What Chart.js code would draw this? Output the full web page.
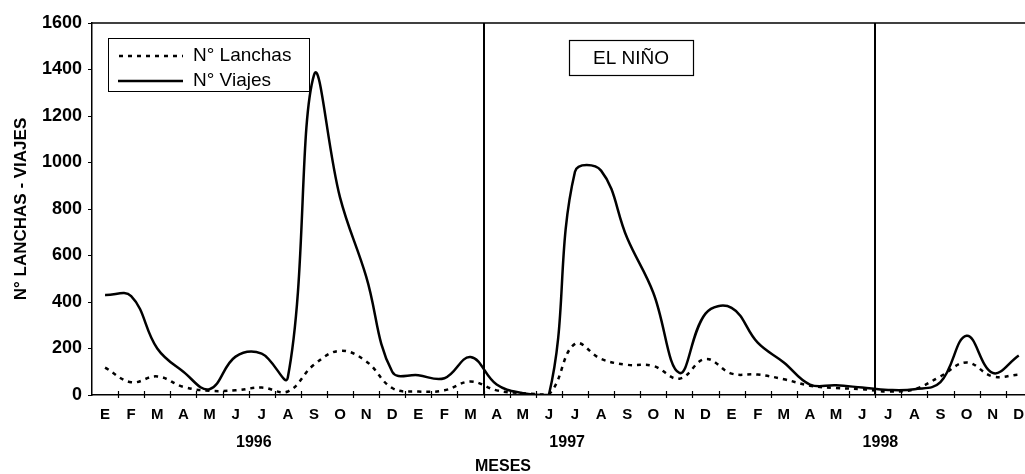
<!DOCTYPE html>
<html>
<head>
<meta charset="utf-8">
<script src="https://cdn.jsdelivr.net/npm/chart.js@4.4.1/dist/chart.umd.min.js"></script>
<style>
html, body { margin: 0; padding: 0; background: #fff; overflow: hidden; }
</style>
</head>
<body>
<canvas id="chart" width="1025" height="474"></canvas>
<script>
// months Jan 1996 .. Dec 1998 (spanish initials)
const months = [
    'E','F','M','A','M','J','J','A','S','O','N','D',
    'E','F','M','A','M','J','J','A','S','O','N','D',
    'E','F','M','A','M','J','J','A','S','O','N','D'
];
const years = ['1996', '1997', '1998'];
const yTicks = [0, 200, 400, 600, 800, 1000, 1200, 1400, 1600];

const lanchas = [
    118, 55, 80, 35, 18, 20, 32, 15, 130, 190, 145, 30,
    15, 20, 58, 20, 8, 3, 220, 155, 130, 125, 70, 155,
    92, 88, 68, 40, 30, 25, 15, 25, 80, 140, 80, 88
];
const viajes = [
    430, 425, 200, 100, 25, 165, 178, 75, 1375, 850, 510, 100,
    85, 72, 163, 45, 8, 0, 960, 965, 675, 440, 95, 350,
    375, 225, 140, 45, 42, 32, 22, 25, 55, 255, 95, 170
];
// El Niño period limits (between Mar/Apr 1997 and Jun/Jul 1998)
const elNinoRange = [14.5, 29.5];

const FONT = '"Liberation Sans", Arial, sans-serif';

const overlay = {
    id: 'overlay',
    afterDatasetsDraw(chart) {
        const { ctx, chartArea: a, scales: { x } } = chart;
        ctx.save();
        ctx.strokeStyle = '#000';
        ctx.fillStyle = '#000';

        // top frame line
        ctx.lineWidth = 1.5;
        ctx.beginPath();
        ctx.moveTo(a.left, a.top);
        ctx.lineTo(a.right + 2, a.top);
        ctx.stroke();

        // el niño limits
        ctx.lineWidth = 2;
        elNinoRange.forEach(v => {
            const px = Math.round(x.getPixelForValue(v));
            ctx.beginPath();
            ctx.moveTo(px, a.top);
            ctx.lineTo(px, a.bottom);
            ctx.stroke();
        });

        // month tick marks between labels
        ctx.lineWidth = 1.2;
        for (let i = 0; i < months.length; i++) {
            const px = Math.round(x.getPixelForValue(i + 0.5)) + 0.5;
            if (px > a.right) break;
            ctx.beginPath();
            ctx.moveTo(px, a.bottom - 4);
            ctx.lineTo(px, a.bottom + 3);
            ctx.stroke();
        }

        // year labels, centred around mid year
        ctx.font = 'bold 16px ' + FONT;
        ctx.textAlign = 'center';
        ctx.textBaseline = 'middle';
        years.forEach((yr, k) => {
            ctx.fillText(yr, x.getPixelForValue(5.7 + 12 * k), 443);
        });
        ctx.fillText('MESES', 503, 467);

        // legend
        ctx.lineWidth = 1;
        ctx.strokeRect(108.5, 38.5, 201, 53);
        ctx.lineWidth = 2.5;
        ctx.setLineDash([4, 5]);
        ctx.beginPath();
        ctx.moveTo(119, 56);
        ctx.lineTo(183, 56);
        ctx.stroke();
        ctx.setLineDash([]);
        ctx.beginPath();
        ctx.moveTo(118, 81);
        ctx.lineTo(183, 81);
        ctx.stroke();
        ctx.font = '19px ' + FONT;
        ctx.textAlign = 'left';
        ctx.fillText('N° Lanchas', 193, 56);
        ctx.fillText('N° Viajes', 193, 81);

        // el niño box
        ctx.lineWidth = 1.2;
        ctx.strokeRect(569.5, 40.5, 124, 35);
        ctx.textAlign = 'center';
        ctx.fillText('EL NIÑO', 631, 59);

        ctx.restore();
    }
};

new Chart(document.getElementById('chart'), {
    type: 'line',
    data: {
        datasets: [
            {
                label: 'N° Lanchas',
                data: lanchas.map((v, i) => ({ x: i, y: v })),
                borderColor: '#000',
                borderWidth: 2.5,
                borderDash: [4, 5],
                pointRadius: 0,
                tension: 0.4,
                fill: false
            },
            {
                label: 'N° Viajes',
                data: viajes.map((v, i) => ({ x: i, y: v })),
                borderColor: '#000',
                borderWidth: 2.5,
                pointRadius: 0,
                tension: 0.4,
                fill: false
            }
        ]
    },
    options: {
        responsive: false,
        animation: false,
        layout: { padding: { top: 23, right: 1, left: 0, bottom: 0 } },
        plugins: {
            legend: { display: false },
            tooltip: { enabled: false }
        },
        scales: {
            x: {
                type: 'linear',
                min: -0.5,
                max: 35.2,
                afterFit: s => {
                    s.height = 79;
                    s.paddingLeft = 0;
                    s.paddingRight = 0;
                },
                afterBuildTicks: s => { s.ticks = months.map((m, i) => ({ value: i })); },
                grid: { display: false },
                border: { display: true, color: '#000', width: 1.5 },
                ticks: {
                    autoSkip: false,
                    maxRotation: 0,
                    padding: 3,
                    color: '#000',
                    font: { family: FONT, size: 15, weight: 'bold' },
                    callback: v => months[v]
                }
            },
            y: {
                min: 0,
                max: 1600,
                afterFit: s => { s.width = 92; },
                afterBuildTicks: s => { s.ticks = yTicks.map(v => ({ value: v })); },
                grid: { drawOnChartArea: false, tickLength: 4, color: '#000', lineWidth: 1 },
                border: { display: true, color: '#000', width: 1.5 },
                ticks: {
                    padding: 6,
                    color: '#000',
                    font: { family: FONT, size: 18, weight: 'bold' },
                    callback: v => String(v)
                },
                title: {
                    display: true,
                    text: 'N° LANCHAS - VIAJES',
                    color: '#000',
                    padding: { top: 11, bottom: 0 },
                    font: { family: FONT, size: 17, weight: 'bold' }
                }
            }
        }
    },
    plugins: [overlay]
});
</script>
</body>
</html>
